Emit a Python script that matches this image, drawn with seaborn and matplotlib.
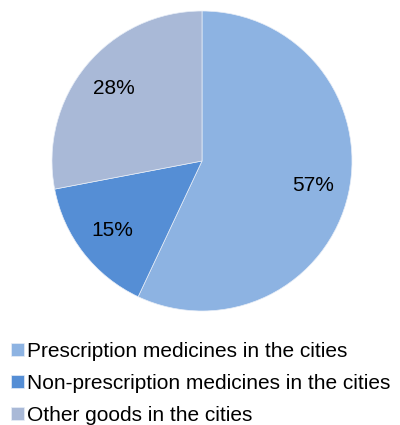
import matplotlib
matplotlib.use("Agg")
import matplotlib.pyplot as plt
import seaborn as sns

categories = ["Prescription medicines in the cities",
              "Non-prescription medicines in the cities",
              "Other goods in the cities"]
values = [57, 15, 28]
colors = ["#8DB3E2", "#558ED5", "#A9B9D7"]

sns.set_theme(style="white")
plt.rcParams['font.family'] = ['Liberation Sans', 'DejaVu Sans']
plt.rcParams['text.color'] = 'black'

fig = plt.figure(figsize=(4.0, 4.25), dpi=100)
W, H = 400, 425
cx, cy, r = 202, 161, 150
ax = fig.add_axes([(cx - r) / W, (H - cy - r) / H, 2 * r / W, 2 * r / H])
palette = sns.color_palette(colors)
wedges, texts, autotexts = ax.pie(values, colors=palette, startangle=90, counterclock=False,
                                  autopct='%1.0f%%', pctdistance=0.76, radius=1,
                                  wedgeprops=dict(linewidth=0.5, edgecolor='#E8EEF7'),
                                  textprops=dict(fontsize=15, color='black'))
ax.set_xlim(-1, 1)
ax.set_ylim(-1, 1)
ax.set_aspect('equal')

leg = fig.legend(wedges, categories, loc='upper left', bbox_to_anchor=(11 / W, 1 - 342 / H),
                 frameon=False, fontsize=15, handlelength=0.6, handleheight=0.6,
                 handletextpad=0.15, labelspacing=0.62, borderaxespad=0, borderpad=0)
for t in leg.get_texts():
    t.set_color('black')

fig.savefig("out.png", dpi=100, facecolor='white')
